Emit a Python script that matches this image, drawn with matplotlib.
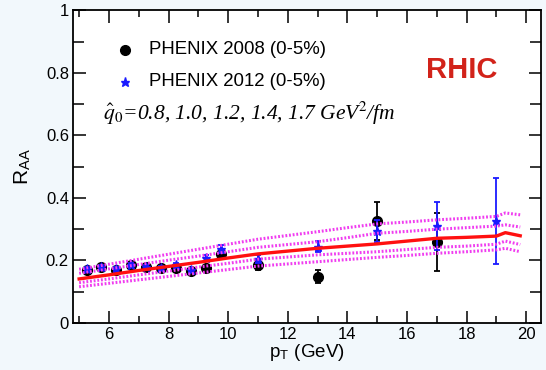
import matplotlib
matplotlib.use("Agg")
import matplotlib.pyplot as plt
from matplotlib.ticker import MultipleLocator, FuncFormatter

plt.rcParams['font.family'] = ['Liberation Sans', 'DejaVu Sans']
plt.rcParams['mathtext.fontset'] = 'stix'

# PHENIX 2008 (0-5%)
pt08 = [5.25, 5.75, 6.25, 6.75, 7.25, 7.75, 8.25, 8.75, 9.25, 9.75, 11, 13, 15, 17]
raa08 = [0.170, 0.178, 0.170, 0.185, 0.180, 0.176, 0.177, 0.167, 0.175, 0.221, 0.184, 0.148, 0.326, 0.260]
err08 = [0.008, 0.008, 0.008, 0.008, 0.008, 0.008, 0.009, 0.009, 0.012, 0.014, 0.013, 0.020, 0.062, 0.093]

# PHENIX 2012 (0-5%)
pt12 = [5.25, 5.75, 6.25, 6.75, 7.25, 7.75, 8.25, 8.75, 9.25, 9.75, 11, 13, 15, 17, 19]
raa12 = [0.172, 0.180, 0.172, 0.185, 0.180, 0.177, 0.186, 0.170, 0.207, 0.236, 0.205, 0.244, 0.294, 0.310, 0.326]
err12 = [0.006, 0.006, 0.006, 0.006, 0.006, 0.006, 0.007, 0.007, 0.010, 0.012, 0.012, 0.017, 0.035, 0.076, 0.138]

# theory curves, qhat0 = 0.8, 1.0, 1.2, 1.4, 1.7 GeV^2/fm
pt_th = [5, 6, 7, 8, 9, 10, 11, 12, 13, 14, 15, 16, 17, 18, 19, 19.3, 19.8]
raa_q08 = [0.172, 0.188, 0.204, 0.220, 0.236, 0.252, 0.268, 0.280, 0.292, 0.305, 0.317, 0.323, 0.330, 0.335, 0.341, 0.352, 0.346]
raa_q10 = [0.159, 0.173, 0.187, 0.201, 0.214, 0.228, 0.242, 0.251, 0.260, 0.273, 0.287, 0.293, 0.300, 0.305, 0.310, 0.314, 0.307]
raa_q12 = [0.141, 0.154, 0.168, 0.181, 0.194, 0.208, 0.221, 0.230, 0.239, 0.246, 0.253, 0.262, 0.271, 0.274, 0.278, 0.289, 0.279]
raa_q14 = [0.129, 0.141, 0.154, 0.166, 0.179, 0.191, 0.204, 0.211, 0.218, 0.223, 0.228, 0.235, 0.242, 0.246, 0.252, 0.262, 0.251]
raa_q17 = [0.116, 0.127, 0.138, 0.149, 0.160, 0.171, 0.182, 0.189, 0.196, 0.203, 0.210, 0.216, 0.223, 0.228, 0.234, 0.239, 0.228]

bg = '#f2f8fc'
fig = plt.figure(figsize=(5.46, 3.70), dpi=100, facecolor=bg)
ax = fig.add_axes([0.134, 0.127, 0.857, 0.845])
ax.set_facecolor('white')

ax.errorbar(pt08, raa08, yerr=err08, fmt='o', color='black', ms=7, capsize=2.5,
            elinewidth=1.3, capthick=1.3, zorder=3)
ax.errorbar(pt12, raa12, yerr=err12, fmt='*', color='#1a1aff', ms=6.5, capsize=2.5,
            elinewidth=1.3, capthick=1.3, zorder=4)

magenta = '#f03cf0'
for vals in [raa_q08, raa_q10, raa_q14, raa_q17]:
    ax.plot(pt_th, vals, color=magenta, lw=2.2, ls=(0, (0.6, 0.6)), zorder=5)
ax.plot(pt_th, raa_q12, color='#ff1010', lw=2.4, zorder=6)

ax.set_xlim(4.8, 20.5)
ax.set_ylim(0, 1)
ax.xaxis.set_major_locator(MultipleLocator(2))
ax.xaxis.set_minor_locator(MultipleLocator(1))
ax.yaxis.set_major_locator(MultipleLocator(0.2))
ax.yaxis.set_minor_locator(MultipleLocator(0.1))
ax.yaxis.set_major_formatter(FuncFormatter(lambda v, p: '%g' % round(v, 1)))
ax.tick_params(which='both', direction='in', top=True, right=True, labelsize=12, width=1.1)
ax.tick_params(which='major', length=9, pad=3)
ax.tick_params(which='minor', length=5)
ax.tick_params(axis='y', which='minor', length=8)
for s in ax.spines.values():
    s.set_linewidth(1.3)

ax.set_xlabel(r'p$_\mathregular{T}$ (GeV)', fontsize=13.5, labelpad=0)
ax.set_ylabel(r'R$_\mathregular{AA}$', fontsize=15, labelpad=9)

# legend by hand, ROOT style
ax.plot([6.55], [0.874], 'o', color='black', ms=7)
ax.plot([6.55], [0.772], '*', color='#1a1aff', ms=6.5)
ax.text(7.35, 0.874, 'PHENIX 2008 (0-5%)', fontsize=13.4, va='center')
ax.text(7.35, 0.772, 'PHENIX 2012 (0-5%)', fontsize=13.4, va='center')
ax.text(5.8, 0.672, r'$\hat{q}_{\mathit{0}}$=0.8, 1.0, 1.2, 1.4, 1.7 GeV$^{\mathit{2}}$/fm',
        fontsize=15.5, fontstyle='italic', family='Liberation Serif', va='center')
ax.text(17.85, 0.81, 'RHIC', fontsize=21, fontweight='bold', color='#d2231a',
        ha='center', va='center')

fig.savefig('out.png', dpi=100, facecolor=bg)
